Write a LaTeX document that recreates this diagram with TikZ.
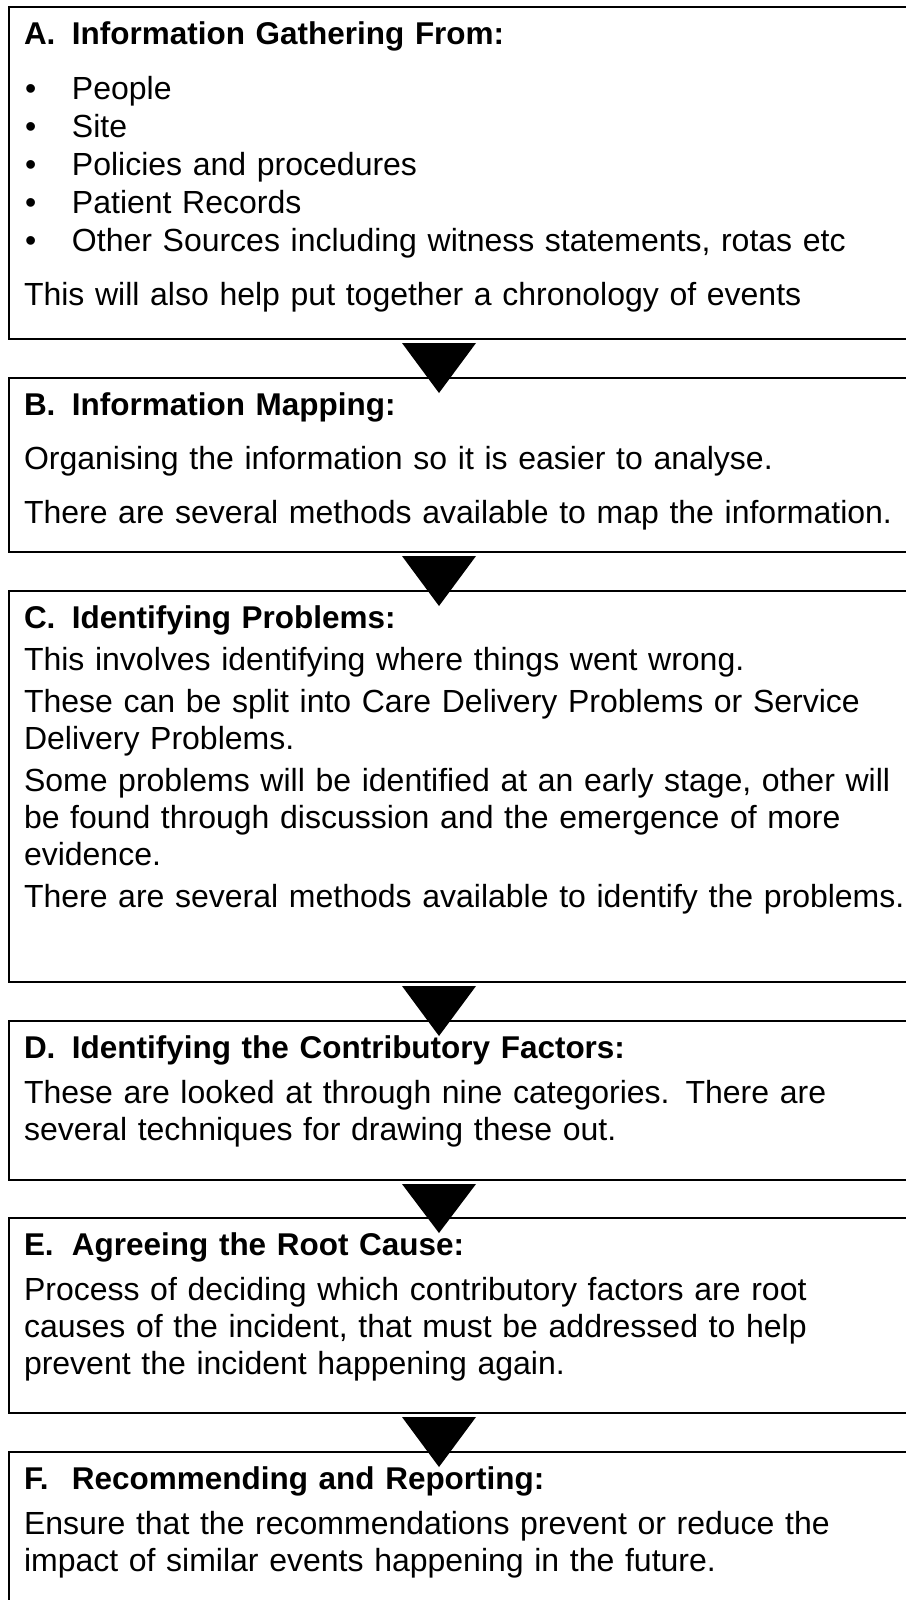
\documentclass[tikz,border=0pt]{standalone}
\usepackage{fontspec}
\setmainfont{Liberation Sans}
\usetikzlibrary{calc}
\newcommand{\hd}[2]{{\fontsize{23.6pt}{27.75pt}\selectfont\bfseries\makebox[36pt][l]{#1}#2}}
\newcommand{\bl}[1]{\makebox[36pt][l]{\hspace{0.75pt}\textbullet}#1}

\begin{document}
\begin{tikzpicture}[x=0.75pt,y=-0.75pt]
	\useasboundingbox (0,0) rectangle (906,1600);
	\clip (0,0) rectangle (906,1600);
	\fill[white] (0,0) rectangle (906,1600);

	\tikzstyle{block} = [draw=black,rectangle,line width=1.5pt,outer sep=0pt,inner xsep=11.25pt,inner ysep=0pt,text width=700pt,align=left,text height=27.75pt,font=\fontsize{24pt}{27.75pt}\selectfont,anchor=north west]
	\tikzstyle{flowtri} = [fill=black]

	%boxes, the right side runs off the page
	\node[block,text depth=221.25pt] (A) at (9,7) {\hd{A.}{Information Gathering From:}\\[13.5pt]
		\bl{People}\\[0.75pt]
		\bl{Site}\\[0.75pt]
		\bl{Policies and procedures}\\[0.75pt]
		\bl{Patient Records}\\[0.75pt]
		\bl{Other Sources including witness statements, rotas etc}\\[12.75pt]
		This will also help put together a chronology of events};
	\node[block,text depth=102.75pt] (B) at (9,378) {\hd{B.}{Information Mapping:}\\[12.75pt]
		Organising the information so it is easier to analyse.\\[12.75pt]
		There are several methods available to map the information.};
	\node[block,text depth=265.5pt] (C) at (9,591) {\hd{C.}{Identifying Problems:}\\[3.75pt]
		This involves identifying where things went wrong.\\[3.75pt]
		These can be split into Care Delivery Problems or Service\\
		Delivery Problems.\\[3.75pt]
		Some problems will be identified at an early stage, other will\\
		be found through discussion and the emergence of more\\
		evidence.\\[3.75pt]
		There are several methods available to identify the problems.};
	\node[block,text depth=91.5pt] (D) at (9,1021) {\hd{D.}{Identifying the Contributory Factors:}\\[6pt]
		These are looked at through nine categories. There are\\
		several techniques for drawing these out.};
	\node[block,text depth=118.5pt] (E) at (9,1218) {\hd{E.}{Agreeing the Root Cause:}\\[6pt]
		Process of deciding which contributory factors are root\\
		causes of the incident, that must be addressed to help\\
		prevent the incident happening again.};
	\node[block,text depth=98.25pt] (F) at (9,1452) {\hd{F.}{Recommending and Reporting:}\\[6pt]
		Ensure that the recommendations prevent or reduce the\\
		impact of similar events happening in the future.};

	%triangles between the boxes
	\coordinate (tx) at (439,0);
	\fill[flowtri] ($(A.south -| tx)+(-37,4)$) -- ($(A.south -| tx)+(37,4)$) -- ($(B.north -| tx)+(0,15)$) -- cycle;
	\fill[flowtri] ($(B.south -| tx)+(-37,4)$) -- ($(B.south -| tx)+(37,4)$) -- ($(C.north -| tx)+(0,15)$) -- cycle;
	\fill[flowtri] ($(C.south -| tx)+(-37,4)$) -- ($(C.south -| tx)+(37,4)$) -- ($(D.north -| tx)+(0,15)$) -- cycle;
	\fill[flowtri] ($(D.south -| tx)+(-37,4)$) -- ($(D.south -| tx)+(37,4)$) -- ($(E.north -| tx)+(0,15)$) -- cycle;
	\fill[flowtri] ($(E.south -| tx)+(-37,4)$) -- ($(E.south -| tx)+(37,4)$) -- ($(F.north -| tx)+(0,15)$) -- cycle;
\end{tikzpicture}
\end{document}
